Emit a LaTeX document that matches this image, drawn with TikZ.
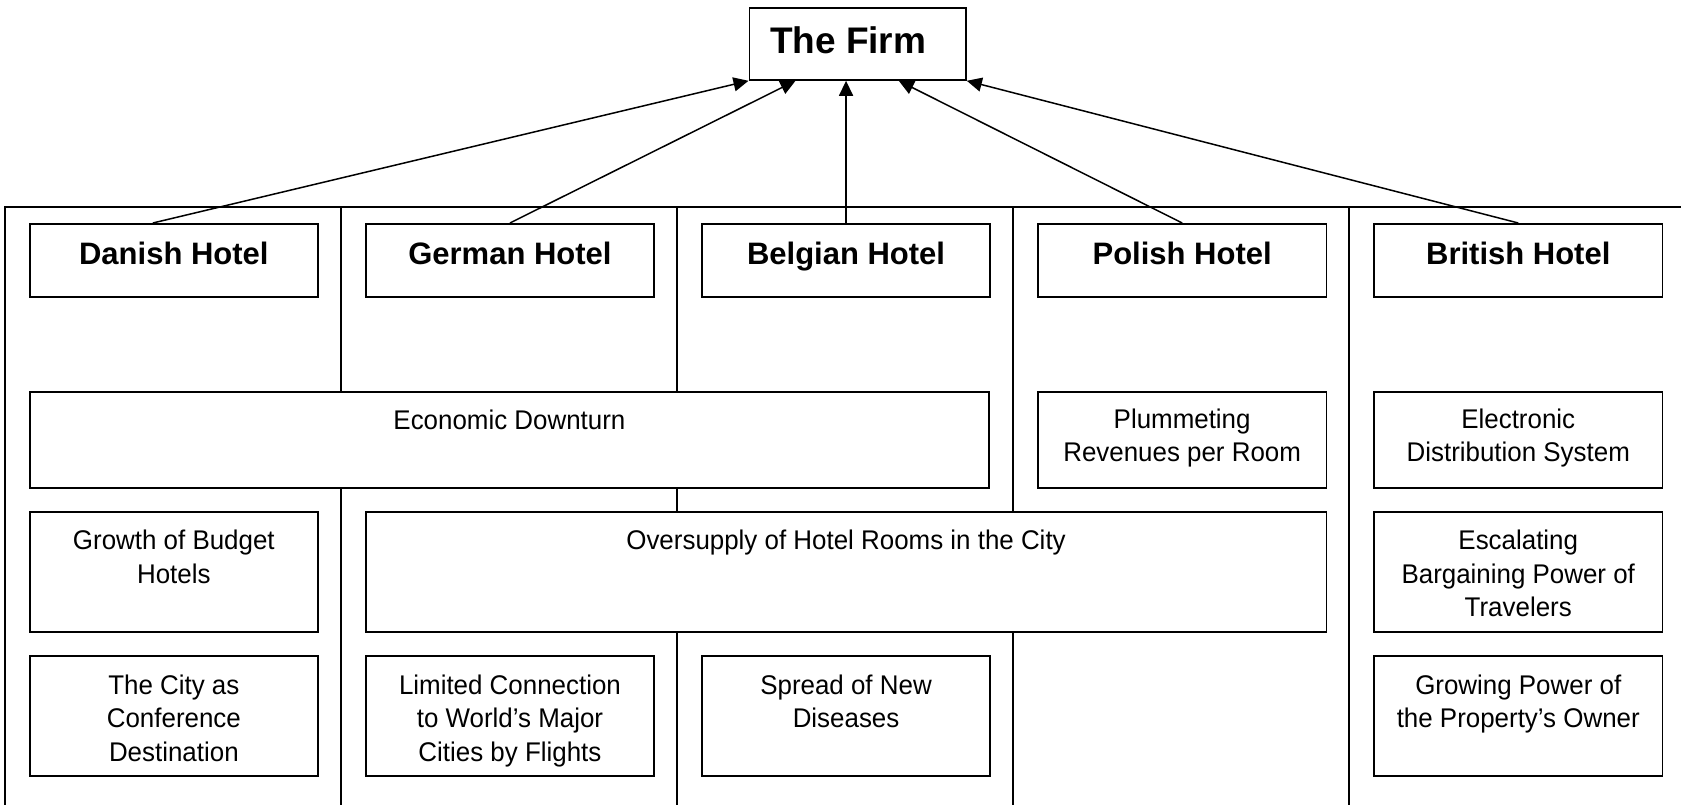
\documentclass[tikz,border=0pt]{standalone}
\usepackage{fontspec}
\setmainfont{Liberation Sans}
\newfontfamily\bodyfont[FakeStretch=0.96]{Liberation Sans}
\usetikzlibrary{arrows.meta}

\begin{document}
\begin{tikzpicture}[x=1pt,y=-1pt,
  box/.style={draw=black, line width=1.8pt, fill=white, inner sep=0pt, anchor=north west},
  hotelbox/.style={box, minimum width=288.5pt, minimum height=73pt},
  firmlabel/.style={font=\fontsize{37}{42}\selectfont\bfseries, anchor=base, inner sep=0pt},
  hotel/.style={font=\fontsize{31}{36}\selectfont\bfseries, anchor=base, inner sep=0pt},
  % the base anchor of a multi-line note sits on its last line
  note/.style={font=\bodyfont\fontsize{27}{33.5}\selectfont, align=center, anchor=base, inner sep=0pt},
  rule/.style={line width=1.8pt},
  link/.style={line width=1.5pt, -{Triangle[length=15pt,width=14pt]}}
]
\useasboundingbox (0,0) rectangle (1681,805);

% outer frame and column dividers
\draw[rule] (5,805) -- (5,207) -- (1681,207);
\foreach \x in {341,677,1013,1349} \draw[rule] (\x,207) -- (\x,805);

% the firm
\node[box, minimum width=216.5pt, minimum height=72pt] (firm) at (748.5,7) {};
\node[firmlabel] (firm-t) at ([xshift=-9.5pt,yshift=-47pt]firm.north) {The Firm};

% hotels
\node[hotelbox] (danish)  at (28.7,223) {};
\node[hotelbox] (german)  at (364.8,223) {};
\node[hotelbox] (belgian) at (700.9,223) {};
\node[hotelbox] (polish)  at (1037,223) {};
\node[hotelbox] (british) at (1373.1,223) {};
\node[hotel] (danish-t)  at ([yshift=-41pt]danish.north)  {Danish Hotel};
\node[hotel] (german-t)  at ([yshift=-41pt]german.north)  {German Hotel};
\node[hotel] (belgian-t) at ([yshift=-41pt]belgian.north) {Belgian Hotel};
\node[hotel] (polish-t)  at ([yshift=-41pt]polish.north)  {Polish Hotel};
\node[hotel] (british-t) at ([yshift=-41pt]british.north) {British Hotel};

% second row
\node[box, minimum width=959.7pt, minimum height=96pt] (econ)  at (28.7,391) {};
\node[box, minimum width=288.5pt, minimum height=96pt] (plum)  at (1037,391) {};
\node[box, minimum width=288.5pt, minimum height=96pt] (elec)  at (1373.1,391) {};
\node[note] (econ-t) at ([yshift=-38pt]econ.north) {Economic Downturn};
\node[note] (plum-t) at ([yshift=-70.5pt]plum.north) {Plummeting\\Revenues per Room};
\node[note] (elec-t) at ([yshift=-70.5pt]elec.north) {Electronic\\Distribution System};

% third row
\node[box, minimum width=288.5pt, minimum height=120pt] (budget) at (28.7,511) {};
\node[box, minimum width=960.7pt, minimum height=120pt] (over)   at (364.8,511) {};
\node[box, minimum width=288.5pt, minimum height=120pt] (barg)   at (1373.1,511) {};
\node[note] (budget-t) at ([yshift=-72pt]budget.north) {Growth of Budget\\Hotels};
\node[note] (over-t)   at ([yshift=-38.5pt]over.north)   {Oversupply of Hotel Rooms in the City};
\node[note] (barg-t)   at ([yshift=-105.5pt]barg.north)   {Escalating\\Bargaining Power of\\Travelers};

% fourth row
\node[box, minimum width=288.5pt, minimum height=120pt] (conf)    at (28.7,655) {};
\node[box, minimum width=288.5pt, minimum height=120pt] (flights) at (364.8,655) {};
\node[box, minimum width=288.5pt, minimum height=120pt] (disease) at (700.9,655) {};
\node[box, minimum width=288.5pt, minimum height=120pt] (owner)   at (1373.1,655) {};
\node[note] (conf-t)    at ([yshift=-106pt]conf.north)    {The City as\\Conference\\Destination};
\node[note] (flights-t) at ([yshift=-106pt]flights.north) {Limited Connection\\to World’s Major\\Cities by Flights};
\node[note] (disease-t) at ([yshift=-72.5pt]disease.north) {Spread of New\\Diseases};
\node[note] (owner-t)   at ([yshift=-72.5pt]owner.north)   {Growing Power of\\the Property’s Owner};

% links from the hotels up to the firm
\draw[link] ([xshift=-21pt]danish.north) -- (firm.south west);
\draw[link] (german.north) -- ([xshift=47pt]firm.south west);
\draw[link] (belgian.north) -- (belgian.north |- firm.south);
\draw[link] (polish.north) -- ([xshift=-68pt]firm.south east);
\draw[link] (british.north) -- (firm.south east);
\end{tikzpicture}
\end{document}
